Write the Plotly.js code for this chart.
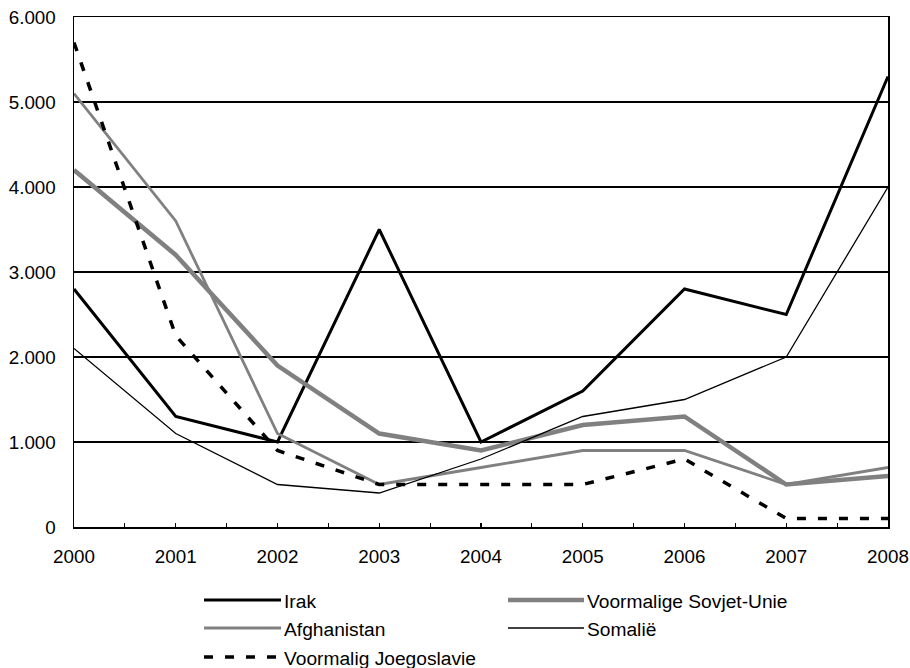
<!DOCTYPE html>
<html>
<head>
<meta charset="utf-8">
<script src="https://cdn.plot.ly/plotly-3.0.1.min.js"></script>
<style>html,body{margin:0;padding:0;background:#fff;}#chart{width:910px;height:668px;}</style>
</head>
<body>
<div id="chart"></div>
<script>
const years = [2000, 2001, 2002, 2003, 2004, 2005, 2006, 2007, 2008];
const irak = [2800, 1300, 1000, 3500, 1000, 1600, 2800, 2500, 5300];
const sovjetUnie = [4200, 3200, 1900, 1100, 900, 1200, 1300, 500, 600];
const afghanistan = [5100, 3600, 1100, 500, 700, 900, 900, 500, 700];
const somalie = [2100, 1100, 500, 400, 800, 1300, 1500, 2000, 4000];
const joegoslavie = [5700, 2250, 900, 500, 500, 500, 800, 100, 100];
const seriesNames = ['Irak', 'Voormalige Sovjet-Unie', 'Afghanistan', 'Somalië', 'Voormalig Joegoslavie'];
const yTickVals = [0, 1000, 2000, 3000, 4000, 5000, 6000];

const styles = [
  {color: '#000000', width: 3, dash: 'solid'},
  {color: '#808080', width: 4.5, dash: 'solid'},
  {color: '#808080', width: 2.8, dash: 'solid'},
  {color: '#000000', width: 1.3, dash: 'solid'},
  {color: '#000000', width: 3.5, dash: '9px,12px'}
];
const seriesData = [irak, sovjetUnie, afghanistan, somalie, joegoslavie];

const traces = seriesData.map((vals, i) => ({
  type: 'scatter', mode: 'lines', x: years, y: vals, name: seriesNames[i],
  line: {color: styles[i].color, width: styles[i].width, dash: styles[i].dash},
  showlegend: false, hoverinfo: 'skip'
}));

// plot area in pixels
const W = 910, H = 668, L = 74, R = 22, T = 17, B = 141;
const pw = W - L - R, ph = H - T - B;
const px2x = p => (p - L) / pw;
const py2y = p => (H - B - p) / ph;

const FONT = 'Liberation Sans, Arial, sans-serif';
const FS = 18.8;
const LFS = 19.2;
const legendPos = [
  {x0: 204, x1: 281, y: 600},
  {x0: 508, x1: 584, y: 600},
  {x0: 204, x1: 281, y: 628},
  {x0: 508, x1: 584, y: 628},
  {x0: 204, x1: 281, y: 657}
];
const shapes = [], annotations = [];
legendPos.forEach((p, i) => {
  shapes.push({type: 'line', xref: 'paper', yref: 'paper',
    x0: px2x(p.x0), x1: px2x(p.x1), y0: py2y(p.y), y1: py2y(p.y),
    line: {color: styles[i].color, width: styles[i].width, dash: styles[i].dash}});
  annotations.push({xref: 'paper', yref: 'paper', x: px2x(p.x1 + 1), y: py2y(p.y + 1),
    xanchor: 'left', yanchor: 'middle', showarrow: false, text: seriesNames[i],
    font: {family: FONT, size: LFS, color: '#000'}});
});

const layout = {
  width: W, height: H,
  margin: {l: L, r: R, t: T, b: B, pad: 0},
  paper_bgcolor: '#fff', plot_bgcolor: '#fff',
  separators: ',.',
  font: {family: FONT, size: FS, color: '#000'},
  showlegend: false,
  xaxis: {
    range: [2000, 2008], tickmode: 'array', tickvals: years, ticktext: years.map(String),
    showgrid: false, zeroline: false,
    showline: true, linecolor: '#000', linewidth: 1.5, mirror: true,
    ticks: 'inside', ticklen: 4, tickcolor: '#000', tickwidth: 1.2,
    minor: {dtick: 0.5, tick0: 2000, ticks: 'inside', ticklen: 4, tickcolor: '#000', tickwidth: 1.2, showgrid: false},
    ticklabelstandoff: 12,
    tickfont: {family: FONT, size: FS, color: '#000'}
  },
  yaxis: {
    range: [0, 6000], tickmode: 'array', tickvals: yTickVals,
    tickformat: ',d',
    showgrid: true, gridcolor: '#000', gridwidth: 1.2,
    zeroline: false,
    showline: true, linecolor: '#000', linewidth: 1.5, mirror: true,
    ticks: '', ticklabelstandoff: 13,
    tickfont: {family: FONT, size: FS, color: '#000'}
  },
  shapes: shapes,
  annotations: annotations
};

Plotly.newPlot('chart', traces, layout, {staticPlot: true, displayModeBar: false});
</script>
</body>
</html>
